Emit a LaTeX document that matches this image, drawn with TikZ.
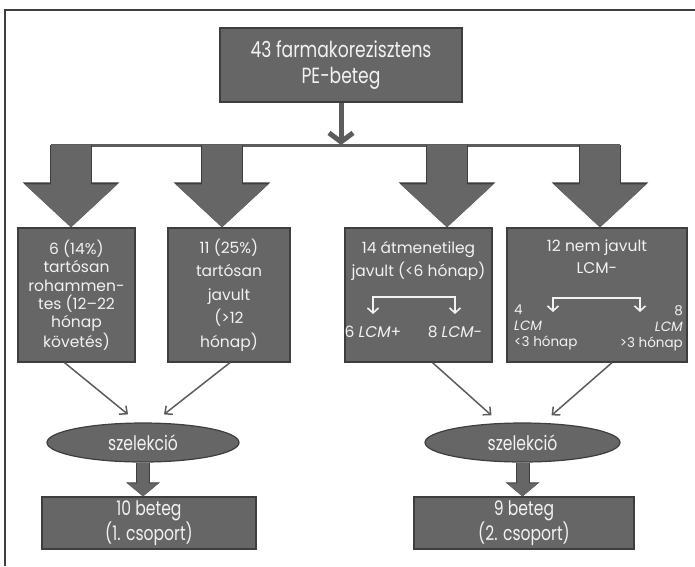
\documentclass[tikz,border=0pt]{standalone}
\usepackage{fontspec}
\setmainfont{Poppins}
\newfontfamily\condfont[FakeStretch=0.78]{Poppins}
\usetikzlibrary{arrows.meta,calc,positioning,shapes.geometric}
\definecolor{boxgray}{RGB}{102,102,102}
\definecolor{edgegray}{RGB}{62,62,62}
\definecolor{linegray}{RGB}{92,92,92}
\definecolor{textwhite}{RGB}{242,242,242}
\tikzset{
  grpbox/.style={draw=edgegray,fill=boxgray,line width=1.2pt,inner sep=0pt,text=textwhite,align=center},
  selnode/.style={draw=edgegray,fill=boxgray,ellipse,line width=1.2pt,inner sep=0pt,text=textwhite,font=\condfont\fontsize{20}{22}\selectfont},
  bodytext/.style={text=textwhite,align=center,inner sep=0pt,font=\fontsize{15.5}{18.4}\selectfont},
  smalltext/.style={text=textwhite,inner sep=0pt,font=\fontsize{13.5}{16}\selectfont},
  trunk/.style={draw=linegray,line width=3pt},
  stemarrow/.style={draw=linegray,line width=5pt,-{Straight Barb[length=9pt,width=24pt]}},
  bigarrow/.style={draw=boxgray,line width=40pt,-{Triangle[length=43pt,width=90pt]},
    preaction={draw=edgegray,line width=42.4pt,-{Triangle[length=45pt,width=94pt]}}},
  midarrow/.style={draw=boxgray,line width=12pt,-{Triangle[length=13pt,width=30pt]},
    preaction={draw=edgegray,line width=14pt,-{Triangle[length=14pt,width=33pt]}}},
  feed/.style={draw=linegray,line width=1.5pt,-{Straight Barb[length=6pt,width=11pt]}},
  split/.style={draw=textwhite,line width=1.6pt,{Straight Barb[length=5pt,width=11pt]}-{Straight Barb[length=5pt,width=11pt]}},
  frameline/.style={draw=edgegray,line width=1.5pt},
}

\begin{document}
\begin{tikzpicture}[x=1pt,y=-1pt]

  \useasboundingbox (0,0) rectangle (695,566);
  \draw[frameline] (695,10) -- (5,10) -- (5,566);

  % start
  \node[grpbox,minimum width=242pt,minimum height=74pt,font=\condfont\fontsize{22}{26}\selectfont] (top) at (341,65)
    {43 farmakorezisztens\\PE-beteg};

  \coordinate (j1) at (71,145);
  \coordinate (j2) at (222,145);
  \coordinate (j3) at (447,145);
  \coordinate (j4) at (600,145);
  \draw[trunk] ([xshift=-20pt]j1) -- ([xshift=20pt]j4);
  \draw[stemarrow] (top.south) -- (top.south |- j1);

  % four outcome groups
  \node[grpbox,minimum width=117pt,minimum height=134pt] (b1) at (76.5,295) {};
  \node[grpbox,minimum width=122pt,minimum height=134pt] (b2) at (229,295) {};
  \node[grpbox,minimum width=147pt,minimum height=134pt] (b3) at (418.5,295) {};
  \node[grpbox,minimum width=180pt,minimum height=134pt] (b4) at (597,295) {};

  \draw[bigarrow] (j1) -- (j1 |- b1.north);
  \draw[bigarrow] (j2) -- (j2 |- b2.north);
  \draw[bigarrow] (j3) -- (j3 |- b3.north);
  \draw[bigarrow] (j4) -- (j4 |- b4.north);

  \node[bodytext] (h1) at (b1) {6 (14\%)\\tartósan\\rohammen-\\tes (12–22\\hónap\\követés)};
  \node[bodytext,font=\fontsize{15.5}{23.5}\selectfont] (h2) at (b2) {11 (25\%)\\tartósan\\javult\\(>12\\hónap)};
  \node[bodytext,font=\fontsize{15.5}{23}\selectfont,anchor=north] (h3) at ([yshift=-14pt]b3.north) {14 átmenetileg\\javult (<6 hónap)};
  \node[bodytext,font=\fontsize{15.5}{22}\selectfont,anchor=north] (h4) at ([yshift=-12pt]b4.north) {12 nem javult\\LCM-};

  % split inside b3
  \node[bodytext] (s3a) at (373,332) {6 \textit{LCM}+};
  \node[bodytext] (s3b) at (455,332) {8 \textit{LCM}-};
  \coordinate (k3) at (413,297);
  \draw[split] ([yshift=12pt]s3a.north) |- (k3) -| ([yshift=12pt]s3b.north);

  % split inside b4
  \node[smalltext,align=left,anchor=north west] (s4a) at (514,305) {4\\\textit{LCM}\\<3 hónap};
  \node[smalltext,align=right,anchor=north east] (s4b) at (683,305) {8\\\textit{LCM}\\>3 hónap};
  \coordinate (k4a) at (553,312);
  \coordinate (k4b) at (640,312);
  \draw[split] (k4a) -- ++(0,-14) -| (k4b);

  % selection
  \node[selnode,minimum width=192pt,minimum height=39pt] (e1) at (143,442.5) {szelekció};
  \node[selnode,minimum width=195pt,minimum height=39pt] (e2) at (522.5,442.5) {szelekció};
  \draw[feed] ([xshift=-12pt]b1.south) -- ([xshift=-15pt,yshift=8pt]e1.north);
  \draw[feed] ([xshift=1pt]b2.south) -- ([xshift=21pt,yshift=8pt]e1.north);
  \draw[feed] ([xshift=14pt]b3.south) -- ([xshift=-31pt,yshift=7pt]e2.north);
  \draw[feed] ([xshift=15pt]b4.south) -- ([xshift=29pt,yshift=7pt]e2.north);

  % result groups
  \node[grpbox,minimum width=214pt,minimum height=52pt,font=\condfont\fontsize{20}{25}\selectfont] (r1) at (149,523)
    {10 beteg\\(1. csoport)};
  \node[grpbox,minimum width=220pt,minimum height=52pt,font=\condfont\fontsize{20}{25}\selectfont] (r2) at (524,523)
    {9 beteg\\(2. csoport)};
  \draw[midarrow] (e1.south) -- (e1.south |- r1.north);
  \draw[midarrow] (e2.south) -- (e2.south |- r2.north);

\end{tikzpicture}
\end{document}
